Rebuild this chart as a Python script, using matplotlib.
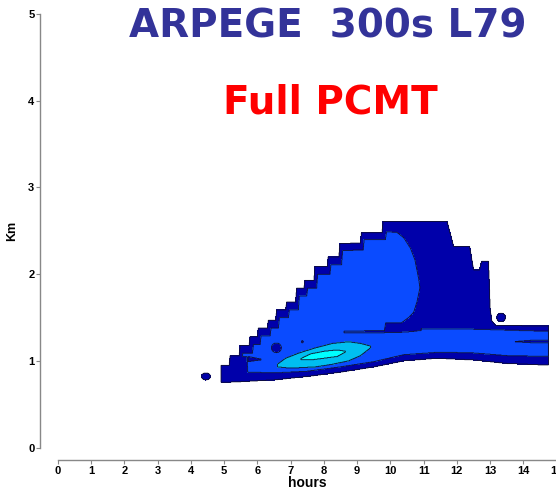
import numpy as np
import matplotlib
matplotlib.use("Agg")
import matplotlib.pyplot as plt

# cloud layers: hours -> km
outer_t = [4.90, 5.15, 5.18, 5.45, 5.48, 5.75, 5.78, 6.00, 6.03, 6.30, 6.33, 6.55, 6.58,
           6.85, 6.88, 7.15, 7.18, 7.40, 7.43, 7.70, 7.73, 8.10, 8.13, 8.45, 8.48, 9.10,
           9.13, 9.75, 9.78, 11.70, 11.90, 12.38, 12.50, 12.68, 12.75, 12.95, 13.00, 13.05,
           13.15, 14.75]
outer_top = [0.95, 0.95, 1.06, 1.06, 1.18, 1.18, 1.28, 1.28, 1.38, 1.38, 1.47, 1.47, 1.59,
             1.59, 1.68, 1.68, 1.84, 1.84, 1.93, 1.93, 2.09, 2.09, 2.20, 2.20, 2.35, 2.36,
             2.48, 2.48, 2.61, 2.61, 2.32, 2.32, 2.05, 2.05, 2.15, 2.15, 1.60, 1.46,
             1.41, 1.40]
outer_bt = [4.90, 5.50, 6.50, 7.50, 8.50, 9.50, 10.40, 11.40, 12.50, 13.50, 14.75]
outer_bot = [0.75, 0.76, 0.78, 0.82, 0.87, 0.93, 1.00, 1.03, 1.01, 0.97, 0.95]

mid_t = [5.55, 5.85, 5.88, 6.08, 6.11, 6.38, 6.41, 6.63, 6.66, 6.93, 6.96, 7.23, 7.26,
         7.48, 7.51, 7.78, 7.81, 8.18, 8.21, 8.53, 8.56, 9.18, 9.21, 9.85, 9.88, 10.20,
         10.40, 10.60, 10.74, 10.85, 10.90, 10.93, 12.00, 13.00, 14.75]
mid_top = [1.09, 1.09, 1.19, 1.19, 1.29, 1.29, 1.38, 1.38, 1.50, 1.50, 1.59, 1.59, 1.75,
           1.75, 1.84, 1.84, 2.00, 2.00, 2.11, 2.11, 2.27, 2.28, 2.40, 2.40, 2.49, 2.48,
           2.42, 2.30, 2.16, 1.95, 1.80, 1.37, 1.37, 1.36, 1.34]
mid_bt = [5.55, 5.68, 5.71, 6.50, 7.50, 8.50, 9.50, 10.40, 11.50, 12.50, 13.50, 14.75]
mid_bot = [1.05, 1.05, 0.87, 0.86, 0.88, 0.93, 0.99, 1.07, 1.10, 1.09, 1.06, 1.05]

# thin darker gaps inside the second layer
gap_t = [[5.71, 6.10],
         [8.60, 9.82, 9.86, 10.34, 10.55, 10.70, 10.80, 10.92],
         [13.75, 14.20, 14.75]]
gap_lo = [[0.99, 1.01],
          [1.325, 1.325, 1.33, 1.33, 1.335, 1.34, 1.345, 1.35],
          [1.22, 1.21, 1.205]]
gap_hi = [[1.05, 1.02],
          [1.34, 1.35, 1.44, 1.44, 1.50, 1.56, 1.68, 1.90],
          [1.222, 1.235, 1.24]]

light_t = [6.60, 6.85, 7.25, 7.75, 8.25, 8.75, 9.10, 9.40]
light_bot = [0.93, 0.92, 0.92, 0.93, 0.96, 1.00, 1.06, 1.15]
light_top = [0.96, 1.03, 1.09, 1.15, 1.20, 1.22, 1.20, 1.17]

core_t = [7.30, 7.60, 8.00, 8.40, 8.64]
core_bot = [1.015, 1.01, 1.03, 1.05, 1.10]
core_top = [1.025, 1.08, 1.11, 1.125, 1.11]

# small isolated cells: centre hour, centre km, half width, half height
blob_t = [4.45, 6.57, 13.33, 7.35]
blob_z = [0.82, 1.15, 1.50, 1.22]
blob_rt = [0.13, 0.15, 0.13, 0.03]
blob_rz = [0.04, 0.055, 0.048, 0.012]

colors = ["#0000aa", "#0a4bff", "#00bef0", "#00ffff"]

plt.rcParams["font.family"] = ["Liberation Sans", "DejaVu Sans"]
plt.rcParams["font.weight"] = "bold"

tt = np.arange(4.0, 15.0, 0.01)
zz = np.arange(0.5, 3.0, 0.005)
T, Z = np.meshgrid(tt, zz)
field = np.zeros_like(T)


def layer(bt, bz, tt_, tz):
    lo = np.interp(T, bt, bz)
    hi = np.interp(T, tt_, tz)
    start = max(bt[0], tt_[0])
    end = min(bt[-1], tt_[-1])
    return (T >= start) & (T <= end) & (Z >= lo) & (Z <= hi)


field[layer(outer_bt, outer_bot, outer_t, outer_top)] = 1
field[layer(mid_bt, mid_bot, mid_t, mid_top)] = 2
for gt, gl, gh in zip(gap_t, gap_lo, gap_hi):
    m = layer(gt, gl, gt, gh) & (field == 2)
    field[m] = 1
field[layer(light_t, light_bot, light_t, light_top)] = 3
field[layer(core_t, core_bot, core_t, core_top)] = 4
for bt_, bz_, rt, rz in zip(blob_t, blob_z, blob_rt, blob_rz):
    field[((T - bt_) / rt) ** 2 + ((Z - bz_) / rz) ** 2 <= 1] = 1

fig = plt.figure(figsize=(5.56, 4.87), dpi=100)
ax = fig.add_axes([58 / 556, 1 - 447.5 / 487, 498.6 / 556, 433.5 / 487])

levels = [0.5, 1.5, 2.5, 3.5, 4.5]
ax.contourf(tt, zz, field, levels=levels, colors=colors)
ax.contour(tt, zz, field, levels=levels[:-1], colors="#101030", linewidths=0.6)

ax.set_xlim(0, 15)
ax.set_ylim(0, 5)
ax.set_xticks(range(16))
ax.set_yticks(range(6))
for side in ["top", "right"]:
    ax.spines[side].set_visible(False)
ax.spines["left"].set_position(("outward", 13))
ax.spines["bottom"].set_position(("outward", 9))
for side in ["left", "bottom"]:
    ax.spines[side].set_color("#888888")
    ax.spines[side].set_linewidth(1.0)
ax.tick_params(length=3, width=0.8, color="#888888", labelsize=8, pad=1.0)

ax.set_xlabel("hours", fontsize=10, fontweight="bold")
ax.xaxis.set_label_coords(0.5, -0.066)
ax.set_ylabel("Km", fontsize=9, fontweight="bold")
ax.yaxis.set_label_coords(-0.080, 0.5)

fig.text(328 / 556, 1 - 27 / 487, "ARPEGE  300s L79", ha="center", va="center",
         fontsize=28, fontweight="bold", color="#333399", family="DejaVu Sans")
fig.text(330 / 556, 1 - 102 / 487, "Full PCMT", ha="center", va="center",
         fontsize=28, fontweight="bold", color="#ff0000", family="DejaVu Sans")

fig.savefig("out.png", dpi=100)
